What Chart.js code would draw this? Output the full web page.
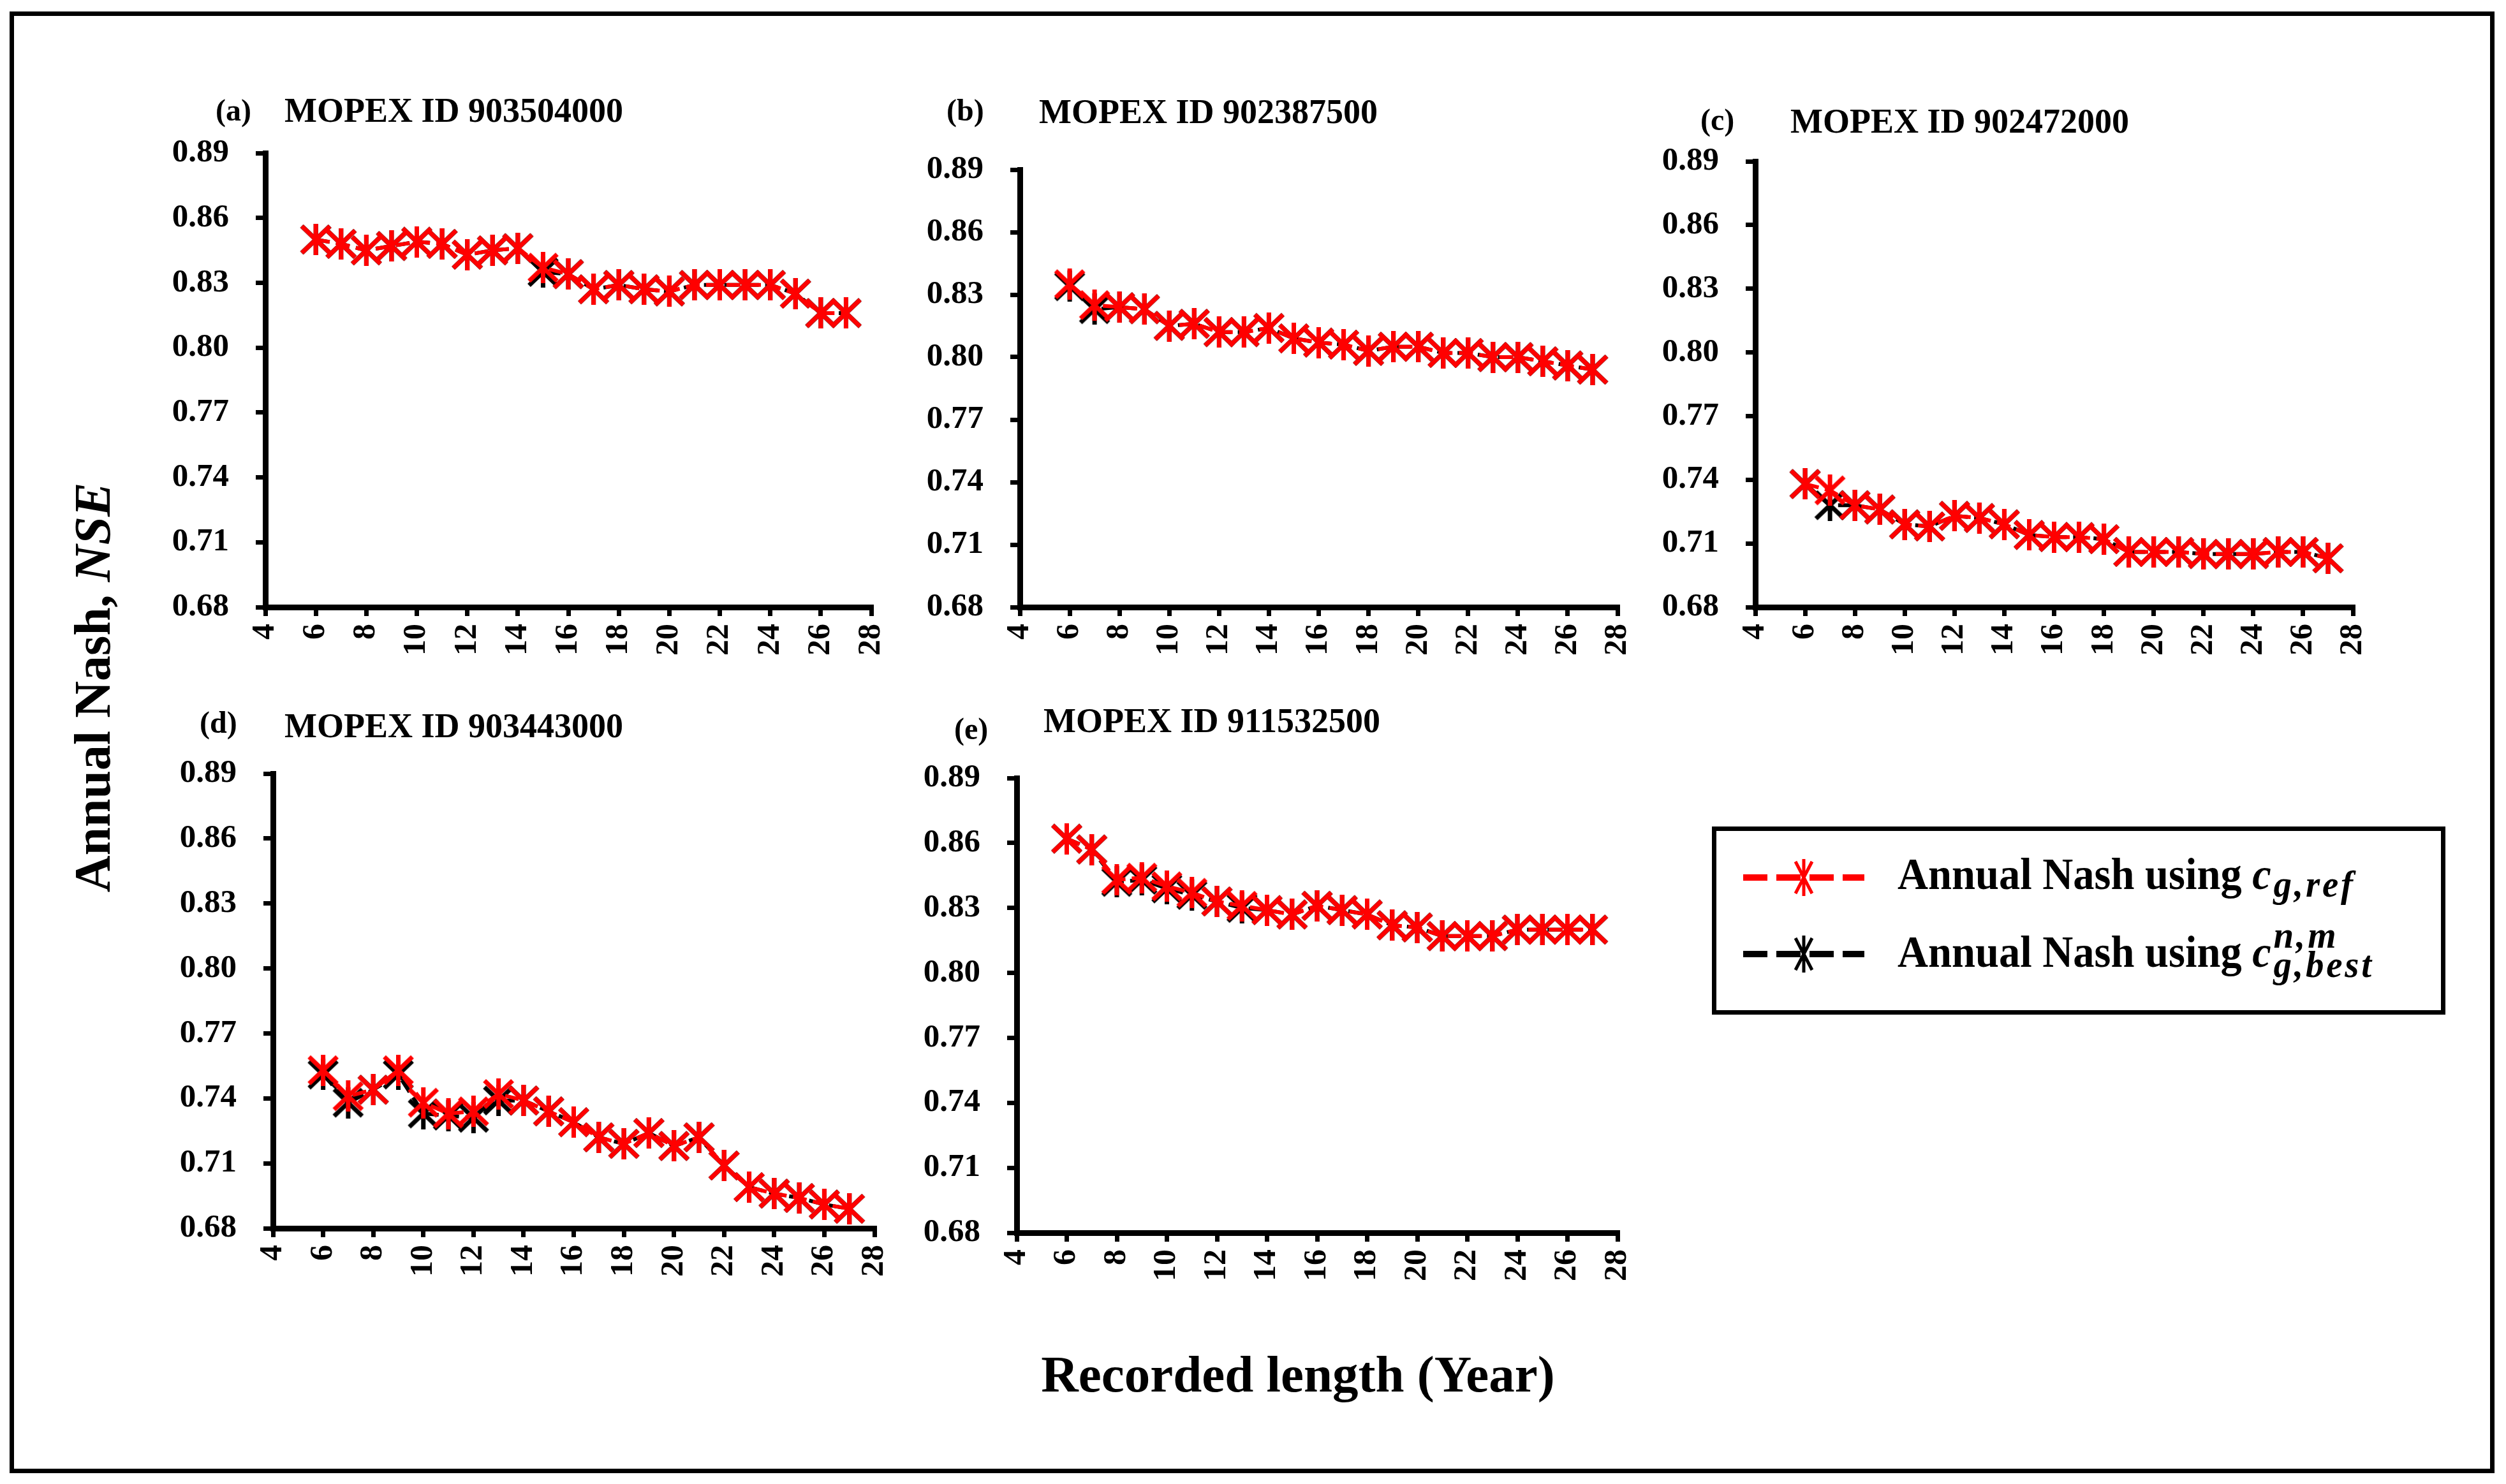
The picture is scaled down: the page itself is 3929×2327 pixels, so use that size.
<!DOCTYPE html>
<html>
<head>
<meta charset="utf-8">
<script src="https://cdn.jsdelivr.net/npm/chart.js@4.4.1/dist/chart.umd.min.js"></script>
<style>
  html, body { margin:0; padding:0; background:#fff; }
  body { width:3929px; height:2327px; position:relative; overflow:hidden;
         font-family:"Liberation Serif","Times New Roman",serif; font-weight:bold; color:#000; }
  #frame { position:absolute; left:15px; top:18px; width:3896px; height:2292px; border:7px solid #000; box-sizing:border-box; }
  canvas.panel { position:absolute; }
  .lbl { position:absolute; line-height:1; white-space:nowrap; transform:translateY(-50%); }
  .letter { font-size:48px; }
  .ptitle { font-size:54px; }
  #ytitle { position:absolute; left:145px; top:1078px; font-size:80px; white-space:nowrap; line-height:1;
            transform:translate(-50%,-50%) rotate(-90deg); }
  #xtitle { position:absolute; left:2035px; top:2155px; font-size:81px; white-space:nowrap; line-height:1;
            transform:translate(-50%,-50%); }
  #legend { position:absolute; left:2684px; top:1296px; width:1150px; height:295px; border:7px solid #000; box-sizing:border-box; }
  .lsample { position:absolute; left:36px; }
  .ltext { position:absolute; left:284px; font-size:70px; white-space:nowrap; line-height:1;
           transform-origin:0 0; transform:scaleX(0.95); }
  .ci { font-style:italic; }
  .sub { font-style:italic; font-size:60px; letter-spacing:4px; position:relative; top:12px; margin-left:4px; }
  .stack { position:relative; display:inline-block; width:150px; height:0; margin-left:4px; }
  .stack span { position:absolute; left:0; font-style:italic; font-size:60px; line-height:1; letter-spacing:4px; white-space:nowrap; }
  .stack .sp { bottom:20px; }
  .stack .sb { bottom:-26px; }
</style>
</head>
<body>
<div id="frame"></div>

<canvas class="panel" id="pa"></canvas>
<canvas class="panel" id="pb"></canvas>
<canvas class="panel" id="pc"></canvas>
<canvas class="panel" id="pd"></canvas>
<canvas class="panel" id="pe"></canvas>

<div class="lbl letter" style="left:338px; top:173px;">(a)</div>
<div class="lbl ptitle" style="left:446px; top:173px;">MOPEX ID 903504000</div>
<div class="lbl letter" style="left:1484px; top:173px;">(b)</div>
<div class="lbl ptitle" style="left:1629px; top:175px;">MOPEX ID 902387500</div>
<div class="lbl letter" style="left:2666px; top:188px;">(c)</div>
<div class="lbl ptitle" style="left:2807px; top:190px;">MOPEX ID 902472000</div>
<div class="lbl letter" style="left:313px; top:1133px;">(d)</div>
<div class="lbl ptitle" style="left:446px; top:1138px;">MOPEX ID 903443000</div>
<div class="lbl letter" style="left:1496px; top:1143px;">(e)</div>
<div class="lbl ptitle" style="left:1636px; top:1130px;">MOPEX ID 911532500</div>

<div id="ytitle">Annual Nash, <i>NSE</i></div>
<div id="xtitle">Recorded length (Year)</div>

<div id="legend">
  <canvas class="lsample" id="ls1" width="200" height="70" style="top:38px;"></canvas>
  <div class="ltext" style="top:33px;">Annual Nash using <span class="ci">c</span><span class="sub">g,ref</span></div>
  <canvas class="lsample" id="ls2" width="200" height="70" style="top:158px;"></canvas>
  <div class="ltext" style="top:155px;">Annual Nash using <span class="ci">c</span><span class="stack"><span class="sp">n,m</span><span class="sb">g,best</span></span></div>
</div>

<script>
// ---------------- data ----------------
const years  = [6,7,8,9,10,11,12,13,14,15,16,17,18,19,20,21,22,23,24,25,26,27];
const xTicks = [4,6,8,10,12,14,16,18,20,22,24,26,28];
const yTicks = [0.68,0.71,0.74,0.77,0.80,0.83,0.86,0.89];

const refA  = [0.850,0.848,0.845,0.847,0.849,0.848,0.843,0.845,0.846,0.837,0.834,0.827,0.829,0.827,0.826,0.829,0.829,0.829,0.829,0.825,0.816,0.816];
const bestA = [0.850,0.848,0.845,0.847,0.849,0.848,0.843,0.845,0.846,0.835,0.834,0.827,0.829,0.827,0.826,0.829,0.829,0.829,0.829,0.825,0.816,0.816];

const refB  = [0.835,0.825,0.824,0.823,0.815,0.816,0.812,0.812,0.814,0.809,0.807,0.806,0.803,0.805,0.805,0.802,0.802,0.800,0.800,0.798,0.796,0.794];
const bestB = [0.834,0.823,0.824,0.823,0.815,0.816,0.812,0.812,0.814,0.809,0.807,0.806,0.803,0.805,0.805,0.802,0.802,0.800,0.800,0.798,0.796,0.794];

const refC  = [0.738,0.735,0.728,0.726,0.719,0.718,0.723,0.722,0.719,0.714,0.713,0.713,0.712,0.706,0.706,0.706,0.705,0.705,0.705,0.706,0.706,0.703];
const bestC = [0.738,0.728,0.728,0.726,0.719,0.718,0.723,0.722,0.719,0.714,0.713,0.713,0.712,0.706,0.706,0.706,0.705,0.705,0.705,0.706,0.706,0.703];

const refD  = [0.753,0.741,0.744,0.753,0.738,0.733,0.734,0.742,0.739,0.734,0.729,0.722,0.719,0.724,0.718,0.722,0.709,0.699,0.696,0.694,0.691,0.689];
const bestD = [0.751,0.738,0.744,0.751,0.733,0.732,0.731,0.739,0.739,0.734,0.729,0.722,0.719,0.724,0.718,0.722,0.709,0.699,0.696,0.694,0.691,0.689];

const refE  = [0.862,0.857,0.843,0.844,0.840,0.837,0.833,0.831,0.829,0.827,0.831,0.829,0.827,0.822,0.821,0.817,0.817,0.817,0.820,0.820,0.820,0.820];
const bestE = [0.862,0.857,0.842,0.843,0.839,0.836,0.833,0.830,0.829,0.827,0.831,0.829,0.827,0.822,0.821,0.817,0.817,0.817,0.820,0.820,0.820,0.820];

const stationIds = ['903504000','902387500','902472000','903443000','911532500'];

// ---------------- layout (pixel boxes of each plot area) ----------------
const panels = [
  { id:'pa', ref:refA, best:bestA, left:416, top:240, right:1366, bottom:952 },
  { id:'pb', ref:refB, best:bestB, left:1599, top:266, right:2536, bottom:952 },
  { id:'pc', ref:refC, best:bestC, left:2752, top:253, right:3689, bottom:952 },
  { id:'pd', ref:refD, best:bestD, left:428, top:1213, right:1371, bottom:1926 },
  { id:'pe', ref:refE, best:bestE, left:1594, top:1220, right:2536, bottom:1933 }
];
const YW = 220, XH = 150, PT = 90, PR = 90;
const FONT = '"Liberation Serif","Times New Roman",serif';

function makeStar(color, w, h, lw) {
  const c = document.createElement('canvas');
  c.width = w + lw; c.height = h + lw;
  const g = c.getContext('2d');
  g.strokeStyle = color; g.lineWidth = lw; g.lineCap = 'butt';
  const o = lw / 2;
  g.beginPath();
  g.moveTo(o, o); g.lineTo(o + w, o + h);
  g.moveTo(o + w, o); g.lineTo(o, o + h);
  g.moveTo(o + w / 2, 0); g.lineTo(o + w / 2, h + lw);
  g.stroke();
  return c;
}
const redStar = makeStar('#ff0000', 44, 42, 7);
const blackStar = makeStar('#000000', 44, 42, 7);

function pts(arr) { return years.map((x, i) => ({ x: x, y: arr[i] })); }

Chart.defaults.font.family = FONT;
Chart.defaults.font.weight = 'bold';
Chart.defaults.color = '#000';

panels.forEach(p => {
  const cv = document.getElementById(p.id);
  const w = (p.right - p.left) + YW + PR;
  const h = (p.bottom - p.top) + PT + XH;
  cv.width = w; cv.height = h;
  cv.style.left = (p.left - YW) + 'px';
  cv.style.top = (p.top - PT) + 'px';
  cv.style.width = w + 'px'; cv.style.height = h + 'px';
  new Chart(cv, {
    type: 'line',
    data: {
      datasets: [
        { label: 'ref', data: pts(p.ref), borderColor: '#ff0000', borderWidth: 6, borderDash: [22, 10],
          pointStyle: redStar, pointRadius: 24, clip: false, tension: 0, fill: false },
        { label: 'best', data: pts(p.best), borderColor: '#000000', borderWidth: 6, borderDash: [22, 10],
          pointStyle: blackStar, pointRadius: 24, clip: false, tension: 0, fill: false }
      ]
    },
    options: {
      responsive: false, animation: false, devicePixelRatio: 1,
      layout: { padding: { left: 0, top: PT, right: PR, bottom: 0 } },
      plugins: { legend: { display: false }, tooltip: { enabled: false }, title: { display: false } },
      scales: {
        x: {
          type: 'linear', min: 4, max: 28,
          afterBuildTicks: s => { s.ticks = xTicks.map(v => ({ value: v })); },
          afterFit: s => { s.height = XH; },
          grid: { display: true, drawOnChartArea: false, drawTicks: true, tickLength: 14, color: '#000', lineWidth: 7 },
          border: { display: true, color: '#000', width: 9 },
          ticks: { font: { family: FONT, weight: 'bold', size: 50 }, color: '#000', minRotation: 90, maxRotation: 90,
                   padding: 12, autoSkip: false, callback: v => String(v) }
        },
        y: {
          type: 'linear', min: 0.68, max: 0.89,
          afterBuildTicks: s => { s.ticks = yTicks.map(v => ({ value: v })); },
          afterFit: s => { s.width = YW; },
          grid: { display: true, drawOnChartArea: false, drawTicks: true, tickLength: 15, color: '#000', lineWidth: 7 },
          border: { display: true, color: '#000', width: 9 },
          ticks: { font: { family: FONT, weight: 'bold', size: 51 }, color: '#000', padding: 42, autoSkip: false,
                   callback: v => Number(v).toFixed(2) }
        }
      }
    }
  });
});

// legend samples
function sample(id, color) {
  const g = document.getElementById(id).getContext('2d');
  g.strokeStyle = color; g.lineWidth = 10; g.setLineDash([38, 14]);
  g.beginPath(); g.moveTo(6, 35); g.lineTo(196, 35); g.stroke();
  g.setLineDash([]);
  g.lineWidth = 5;
  g.beginPath();
  g.moveTo(88, 10); g.lineTo(114, 60);
  g.moveTo(114, 10); g.lineTo(88, 60);
  g.moveTo(101, 6); g.lineTo(101, 64);
  g.stroke();
}
sample('ls1', '#ff0000');
sample('ls2', '#000000');
</script>
</body>
</html>
